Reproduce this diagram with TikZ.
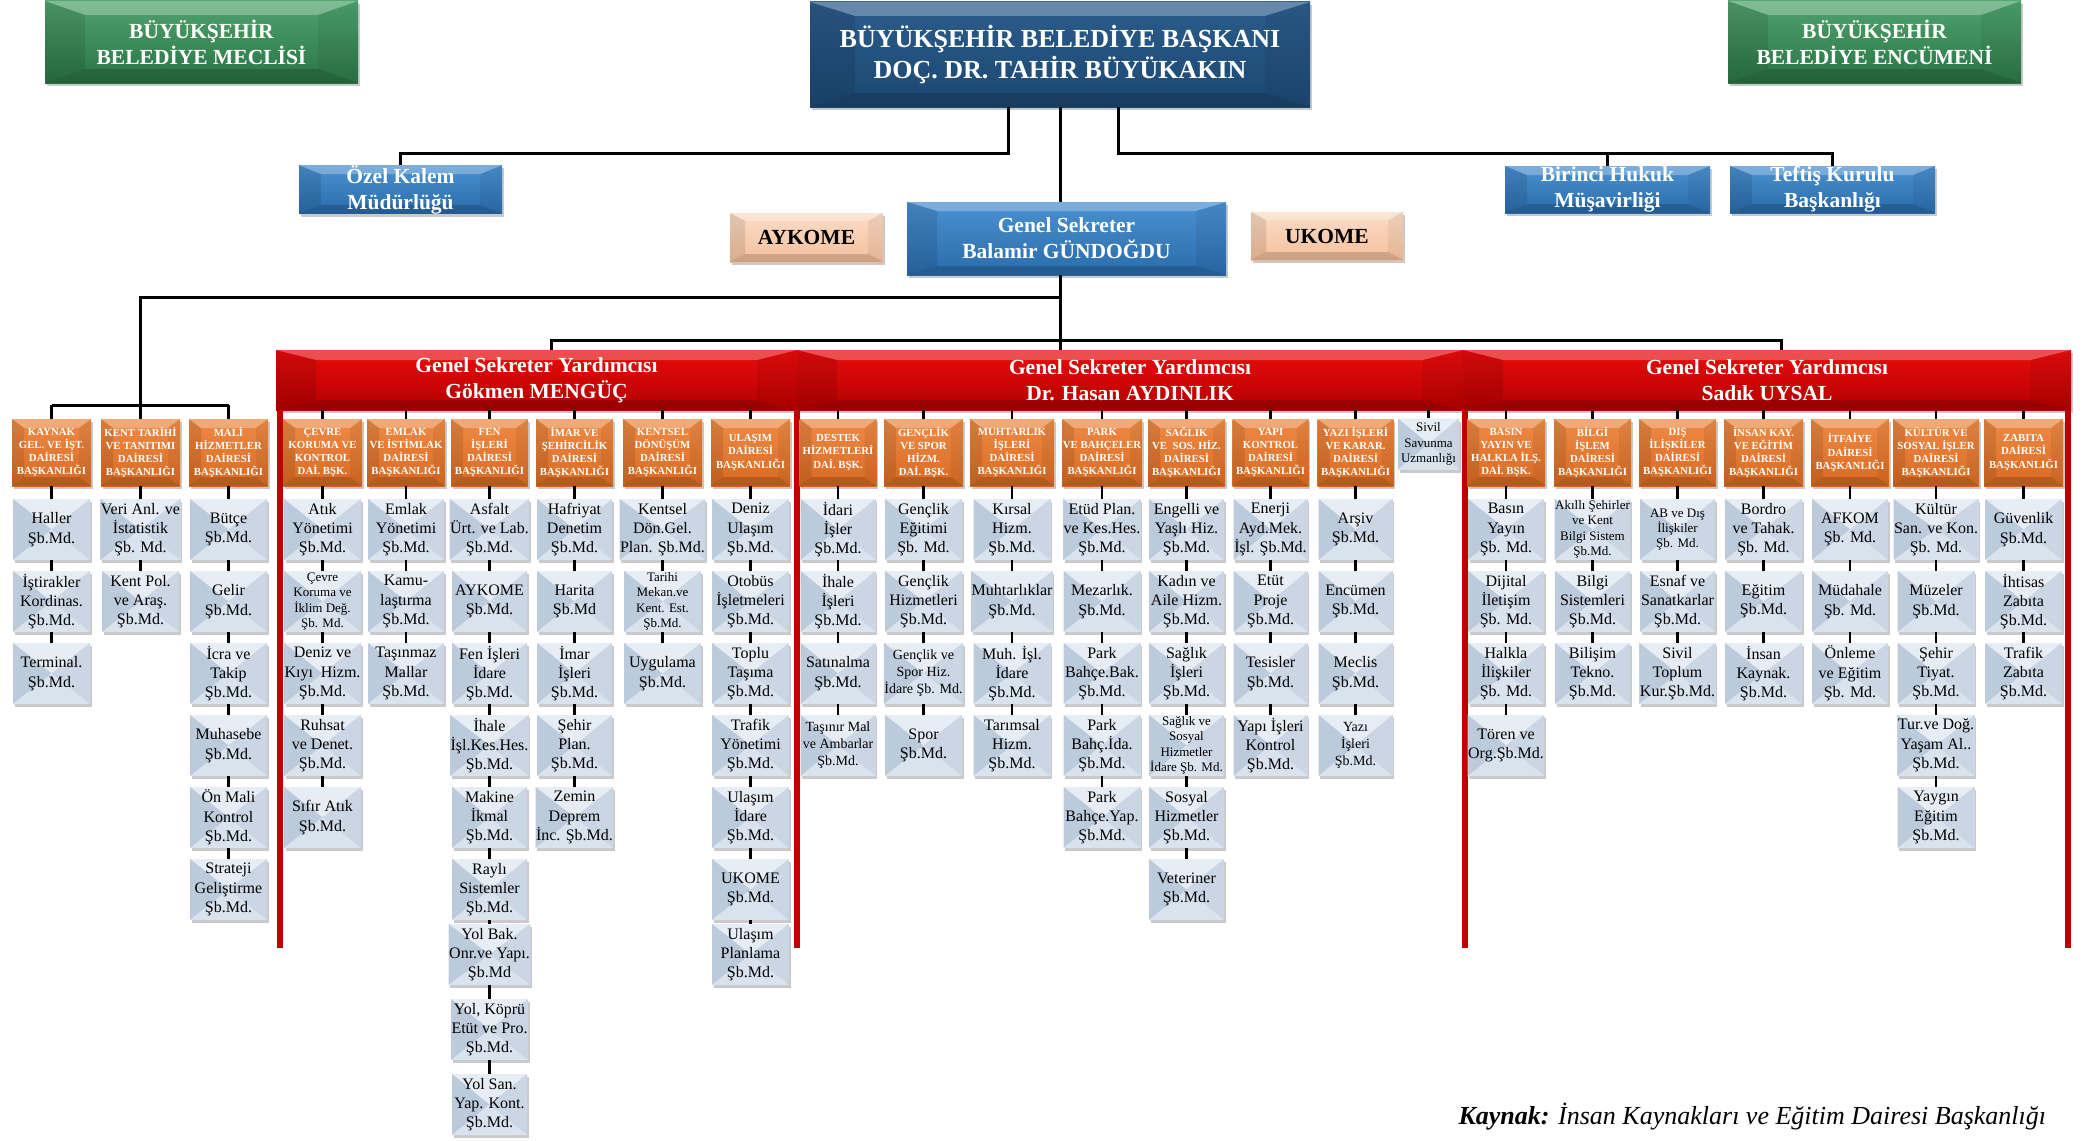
\documentclass[tikz,border=0pt]{standalone}
\usepackage{fontspec}
\setmainfont{Liberation Serif}
\usetikzlibrary{shadows,calc}
\definecolor{grtop}{HTML}{4FA36E}
\definecolor{grbot}{HTML}{2A7444}
\definecolor{pbtop}{HTML}{2C5C8C}
\definecolor{pbbot}{HTML}{1C4872}
\definecolor{bltop}{HTML}{4A90D0}
\definecolor{blbot}{HTML}{2A6CAB}
\definecolor{rdtop}{HTML}{E80C0C}
\definecolor{rdbot}{HTML}{B40000}
\definecolor{ortop}{HTML}{EE8A45}
\definecolor{orbot}{HTML}{D86A22}
\definecolor{pctop}{HTML}{FBDCC6}
\definecolor{pcbot}{HTML}{F4C09C}
\definecolor{subc}{HTML}{D6E1EE}
\definecolor{subtop}{HTML}{E6EDF5}
\definecolor{subleft}{HTML}{BCCBDC}
\definecolor{subright}{HTML}{CAD6E4}
\definecolor{subbot}{HTML}{D9E3EE}
\definecolor{redl}{HTML}{C00000}
\newcommand\subfn{\fontsize{16}{19.3}\selectfont}
\newcommand\subft{\fontsize{14}{17}\selectfont}
\newcommand\subfs{\fontsize{13}{15.3}\selectfont}
\newcommand\bevelfacets[2]{%
  \path (path picture bounding box.north west) coordinate (q1)
        (path picture bounding box.north east) coordinate (q2)
        (path picture bounding box.south east) coordinate (q3)
        (path picture bounding box.south west) coordinate (q4);
  \fill[white,opacity=.28] (q1) -- (q2) -- ([shift={(-#1,#2)}]q2) -- ([shift={(#1,#2)}]q1) -- cycle;
  \fill[black,opacity=.10] (q1) -- ([shift={(#1,#2)}]q1) -- ([shift={(#1,-#2)}]q4) -- (q4) -- cycle;
  \fill[black,opacity=.06] (q2) -- ([shift={(-#1,#2)}]q2) -- ([shift={(-#1,-#2)}]q3) -- (q3) -- cycle;
  \fill[black,opacity=.16] (q4) -- ([shift={(#1,-#2)}]q4) -- ([shift={(-#1,-#2)}]q3) -- (q3) -- cycle;
}
\newcommand\xfacets{%
  \fill[subtop] (path picture bounding box.north west) -- (path picture bounding box.north east) -- (path picture bounding box.center) -- cycle;
  \fill[subleft] (path picture bounding box.north west) -- (path picture bounding box.south west) -- (path picture bounding box.center) -- cycle;
  \fill[subright] (path picture bounding box.north east) -- (path picture bounding box.south east) -- (path picture bounding box.center) -- cycle;
  \fill[subbot] (path picture bounding box.south west) -- (path picture bounding box.south east) -- (path picture bounding box.center) -- cycle;
}
\tikzset{
  conn/.style={line width=3pt, black},
  tick/.style={line width=2.6pt, black},
  redline/.style={line width=5.5pt, redl},
  shd/.style={drop shadow={shadow xshift=1.5pt, shadow yshift=-3pt, opacity=.3, fill=black!70}},
  bev/.style 2 args={path picture={\bevelfacets{#1}{#2}}},
  bigbox/.style={shd, rectangle, inner sep=0pt, text=white, align=center,
    font=\bfseries\fontsize{21.5}{26}\selectfont},
  greenbox/.style={bigbox, top color=grtop, bottom color=grbot, bev={40}{14}},
  presbox/.style={bigbox, top color=pbtop, bottom color=pbbot, bev={45}{14},
    font=\bfseries\fontsize{26}{31}\selectfont},
  bluebox/.style={bigbox, top color=bltop, bottom color=blbot},
  peachbox/.style={bigbox, text=black, top color=pctop, bottom color=pcbot, bev={15}{8}},
  redbox/.style={bigbox, top color=rdtop, bottom color=rdbot, bev={40}{10}},
  hdr/.style={shd, rectangle, inner sep=0pt, minimum height=67, text=white, align=center,
    top color=ortop, bottom color=orbot, bev={12}{9},
    font=\bfseries\fontsize{10.8}{13.2}\selectfont},
  sub/.style={shd, rectangle, inner sep=0.5pt, minimum height=61, align=center, text=black,
    fill=subc, path picture={\xfacets}},
}
\newcommand\dcol[6]{%
  \node[hdr, minimum width=#3] (#1) at (#2,452.5) {#5};
  \draw[tick] (#1.north) -- (#1.north |- #4);
  \foreach \o/\t [count=\i] in {#6} {%
    \pgfmathsetmacro\yy{\i<7 ? 529.5+(\i-1)*72 : 954.5+(\i-7)*75}%
    \node[sub, minimum width={min(#3-2,77)}, font=\csname subf\o\endcsname] (#1-\i) at (#2,\yy) {\t};
    \ifnum\i=1 \draw[tick] (#1.south) -- (#1-1.north);%
    \else \pgfmathtruncatemacro\pv{\i-1}\draw[tick] (#1-\pv.south) -- (#1-\i.north);\fi
  }%
}
\begin{document}
\begin{tikzpicture}[x=1pt,y=-1pt]
\useasboundingbox (0,0) rectangle (2098,1140);
% top level
\node[greenbox, minimum width=313, minimum height=82] (meclis) at (201.5,42) {BÜYÜKŞEHİR\\BELEDİYE MECLİSİ};
\node[presbox, minimum width=500, minimum height=105] (pres) at (1060,54.5) {BÜYÜKŞEHİR BELEDİYE BAŞKANI\\DOÇ. DR. TAHİR BÜYÜKAKIN};
\node[greenbox, minimum width=293, minimum height=82] (encumen) at (1874.5,42) {BÜYÜKŞEHİR\\BELEDİYE ENCÜMENİ};
\node[bluebox, bev={22}{9}, minimum width=203, minimum height=47] (ozel) at (400.5,189.5) {Özel Kalem\\Müdürlüğü};
\node[bluebox, bev={22}{9}, minimum width=205, minimum height=47] (birinci) at (1607.5,189.5) {Birinci Hukuk\\Müşavirliği};
\node[bluebox, bev={22}{9}, minimum width=205, minimum height=47] (teftis) at (1832.5,189.5) {Teftiş Kurulu\\Başkanlığı};
\node[bluebox, bev={30}{9}, minimum width=319, minimum height=73] (gs) at (1066.5,238.5) {Genel Sekreter\\Balamir GÜNDOĞDU};
\node[peachbox, minimum width=153, minimum height=49] (aykome) at (806.5,237.5) {AYKOME};
\node[peachbox, minimum width=152, minimum height=48] (ukome) at (1327,236) {UKOME};
% deputies
\node[redbox, minimum width=521, minimum height=60] (gm) at (536.5,380) {Genel Sekreter Yardımcısı\\Gökmen MENGÜÇ};
\node[redbox, minimum width=666, minimum height=60] (ha) at (1130,380) {Genel Sekreter Yardımcısı\\Dr. Hasan AYDINLIK};
\node[redbox, minimum width=608, minimum height=60] (su) at (1767,380) {Genel Sekreter Yardımcısı\\Sadık UYSAL};
\draw[redline] ([xshift=4pt]gm.south west) -- ++(0,538);
\draw[redline] (ha.south west) -- ++(0,538);
\draw[redline] ([xshift=2pt]su.south west) -- ++(0,538);
\draw[redline] ([xshift=-3pt]su.south east) -- ++(0,538);
% connectors at top
\draw[conn] ([xshift=-52pt]pres.south) -- ++(0,46) -| (ozel.north);
\path ([xshift=58pt]pres.south) ++(0,46) coordinate (rb);
\draw[conn] ([xshift=58pt]pres.south) -- (rb) -| (teftis.north);
\draw[conn] (birinci.north) -- (birinci.north |- rb);
\draw[conn] (pres.south) -- (pres.south |- gs.north);
\draw[conn] (pres.south |- gs.south) -- (pres.south |- ha.north);
\path (pres.south |- 0,297) coordinate (lb);
\path (pres.south |- 0,340) coordinate (mb);
\coordinate (lbar) at (140.5,405);
\path ([xshift=15pt]gm.north) coordinate (gmc);
\path ([xshift=14pt]su.north) coordinate (suc);
\draw[conn] (gmc) -- (gmc |- mb) -- (suc |- mb) -- (suc);
% left cluster
\dcol{kaynak}{51.5}{79}{lbar}{KAYNAK\\GEL. VE İŞT.\\DAİRESİ\\BAŞKANLIĞI}{n/{Haller\\Şb.Md.}, n/{İştirakler\\Kordinas.\\Şb.Md.}, n/{Terminal.\\Şb.Md.}}
\dcol{kent}{140.5}{79}{lbar}{KENT TARİHİ\\VE TANITIMI\\DAİRESİ\\BAŞKANLIĞI}{n/{Veri Anl. ve\\İstatistik\\Şb. Md.}, n/{Kent Pol.\\ve Araş.\\Şb.Md.}}
\dcol{mali}{228.5}{79}{lbar}{MALİ\\HİZMETLER\\DAİRESİ\\BAŞKANLIĞI}{n/{Bütçe\\Şb.Md.}, n/{Gelir\\Şb.Md.}, n/{İcra ve\\Takip\\Şb.Md.}, n/{Muhasebe\\Şb.Md.}, n/{Ön Mali\\Kontrol\\Şb.Md.}, n/{Strateji\\Geliştirme\\Şb.Md.}}
\draw[conn] (lb) -| (lbar);
\draw[conn] (kaynak.north |- lbar) -- (mali.north |- lbar);
% Mengüç
\dcol{cevre}{322.5}{79}{gm.south}{ÇEVRE\\KORUMA VE\\KONTROL\\DAİ. BŞK.}{n/{Atık\\Yönetimi\\Şb.Md.}, s/{Çevre\\Koruma ve\\İklim Değ.\\Şb. Md.}, n/{Deniz ve\\Kıyı~ Hizm.\\Şb.Md.}, n/{Ruhsat\\ve Denet.\\Şb.Md.}, n/{Sıfır Atık\\Şb.Md.}}
\dcol{emlak}{406}{78}{gm.south}{EMLAK\\VE İSTİMLAK\\DAİRESİ\\BAŞKANLIĞI}{n/{Emlak\\Yönetimi\\Şb.Md.}, n/{Kamu-\\laştırma\\Şb.Md.}, n/{Taşınmaz\\Mallar\\Şb.Md.}}
\dcol{fen}{489.5}{77}{gm.south}{FEN\\İŞLERİ\\DAİRESİ\\BAŞKANLIĞI}{n/{Asfalt\\Ürt. ve Lab.\\Şb.Md.}, n/{AYKOME\\Şb.Md.}, n/{Fen İşleri\\İdare\\Şb.Md.}, n/{İhale\\İşl.Kes.Hes.\\Şb.Md.}, n/{Makine\\İkmal\\Şb.Md.}, n/{Raylı\\Sistemler\\Şb.Md.}, n/{Yol Bak.\\Onr.ve Yapı.\\Şb.Md}, n/{Yol, Köprü\\Etüt ve Pro.\\Şb.Md.}, n/{Yol San.\\Yap. Kont.\\Şb.Md.}}
\dcol{imar}{574.5}{77}{gm.south}{İMAR VE\\ŞEHİRCİLİK\\DAİRESİ\\BAŞKANLIĞI}{n/{Hafriyat\\Denetim\\Şb.Md.}, n/{Harita\\Şb.Md}, n/{İmar\\İşleri\\Şb.Md.}, n/{Şehir\\Plan.\\Şb.Md.}, n/{Zemin\\Deprem\\İnc. Şb.Md.}}
\dcol{kentsel}{662.5}{79}{gm.south}{KENTSEL\\DÖNÜŞÜM\\DAİRESİ\\BAŞKANLIĞI}{n/{Kentsel\\Dön.Gel.\\Plan. Şb.Md.}, s/{Tarihi\\Mekan.ve\\Kent. Est.\\Şb.Md.}, n/{Uygulama\\Şb.Md.}}
\dcol{ulasim}{750.5}{79}{gm.south}{ULAŞIM\\DAİRESİ\\BAŞKANLIĞI}{n/{Deniz\\Ulaşım\\Şb.Md.}, n/{Otobüs\\İşletmeleri\\Şb.Md.}, n/{Toplu\\Taşıma\\Şb.Md.}, n/{Trafik\\Yönetimi\\Şb.Md.}, n/{Ulaşım\\İdare\\Şb.Md.}, n/{UKOME\\Şb.Md.}, n/{Ulaşım\\Planlama\\Şb.Md.}}
% Aydınlık
\dcol{destek}{838}{77}{ha.south}{DESTEK\\HİZMETLERİ\\DAİ. BŞK.}{n/{İdari\\İşler\\Şb.Md.}, n/{İhale\\İşleri\\Şb.Md.}, n/{Satınalma\\Şb.Md.}, t/{Taşınır Mal\\ve Ambarlar\\Şb.Md.}}
\dcol{genclik}{923.5}{79}{ha.south}{GENÇLİK\\VE SPOR\\HİZM.\\DAİ. BŞK.}{n/{Gençlik\\Eğitimi\\Şb. Md.}, n/{Gençlik\\Hizmetleri\\Şb.Md.}, t/{Gençlik ve\\Spor Hiz.\\İdare Şb. Md.}, n/{Spor\\Şb.Md.}}
\dcol{muhtar}{1012}{84}{ha.south}{MUHTARLIK\\İŞLERİ\\DAİRESİ\\BAŞKANLIĞI}{n/{Kırsal\\Hizm.\\Şb.Md.}, n/{Muhtarlıklar\\Şb.Md.}, n/{Muh. İşl.\\İdare\\Şb.Md.}, n/{Tarımsal\\Hizm.\\Şb.Md.}}
\dcol{park}{1102}{80}{ha.south}{PARK\\VE BAHÇELER\\DAİRESİ\\BAŞKANLIĞI}{n/{Etüd Plan.\\ve Kes.Hes.\\Şb.Md.}, n/{Mezarlık.\\Şb.Md.}, n/{Park\\Bahçe.Bak.\\Şb.Md.}, n/{Park\\Bahç.İda.\\Şb.Md.}, n/{Park\\Bahçe.Yap.\\Şb.Md.}}
\dcol{saglik}{1186.5}{77}{ha.south}{SAĞLIK\\VE~ SOS. HİZ.\\DAİRESİ\\BAŞKANLIĞI}{n/{Engelli ve\\Yaşlı Hiz.\\Şb.Md.}, n/{Kadın ve\\Aile Hizm.\\Şb.Md.}, n/{Sağlık\\İşleri\\Şb.Md.}, s/{Sağlık ve\\Sosyal\\Hizmetler\\İdare Şb. Md.}, n/{Sosyal\\Hizmetler\\Şb.Md.}, n/{Veteriner\\Şb.Md.}}
\dcol{yapi}{1270.5}{76}{ha.south}{YAPI\\KONTROL\\DAİRESİ\\BAŞKANLIĞI}{n/{Enerji\\Ayd.Mek.\\İşl. Şb.Md.}, n/{Etüt\\Proje\\Şb.Md.}, n/{Tesisler\\Şb.Md.}, n/{Yapı İşleri\\Kontrol\\Şb.Md.}}
\dcol{yazi}{1355.5}{76}{ha.south}{YAZI İŞLERİ\\VE KARAR.\\DAİRESİ\\BAŞKANLIĞI}{n/{Arşiv\\Şb.Md.}, n/{Encümen\\Şb.Md.}, n/{Meclis\\Şb.Md.}, t/{Yazı\\İşleri\\Şb.Md.}}
\node[sub, minimum width=61, minimum height=51, font=\subfs] (sivil) at (1428.5,444) {Sivil\\Savunma\\Uzmanlığı};
\draw[tick] (sivil.north) -- (sivil.north |- ha.south);
% Uysal
\dcol{basin}{1506}{78}{su.south}{BASIN\\YAYIN VE\\HALKLA İLŞ.\\DAİ. BŞK.}{n/{Basın\\Yayın\\Şb. Md.}, n/{Dijital\\İletişim\\Şb. Md.}, n/{Halkla\\İlişkiler\\Şb. Md.}, n/{Tören ve\\Org.Şb.Md.}}
\dcol{bilgi}{1592.5}{77}{su.south}{BİLGİ\\İŞLEM\\DAİRESİ\\BAŞKANLIĞI}{s/{Akıllı Şehirler\\ve Kent\\Bilgi Sistem\\Şb.Md.}, n/{Bilgi\\Sistemleri\\Şb.Md.}, n/{Bilişim\\Tekno.\\Şb.Md.}}
\dcol{dis}{1677.5}{77}{su.south}{DIŞ\\İLİŞKİLER\\DAİRESİ\\BAŞKANLIĞI}{s/{AB ve Dış\\İlişkiler\\Şb. Md.}, n/{Esnaf ve\\Sanatkarlar\\Şb.Md.}, n/{Sivil\\Toplum\\Kur.Şb.Md.}}
\dcol{insan}{1763.5}{79}{su.south}{İNSAN KAY.\\VE EĞİTİM\\DAİRESİ\\BAŞKANLIĞI}{n/{Bordro\\ve Tahak.\\Şb. Md.}, n/{Eğitim\\Şb.Md.}, n/{İnsan\\Kaynak.\\Şb.Md.}}
\dcol{itfaiye}{1850}{78}{su.south}{İTFAİYE\\DAİRESİ\\BAŞKANLIĞI}{n/{AFKOM\\Şb. Md.}, n/{Müdahale\\Şb. Md.}, n/{Önleme\\ve Eğitim\\Şb. Md.}}
\dcol{kultur}{1936}{86}{su.south}{KÜLTÜR VE\\SOSYAL İŞLER\\DAİRESİ\\BAŞKANLIĞI}{n/{Kültür\\San. ve Kon.\\Şb. Md.}, n/{Müzeler\\Şb.Md.}, n/{Şehir\\Tiyat.\\Şb.Md.}, n/{Tur.ve Doğ.\\Yaşam Al..\\Şb.Md.}, n/{Yaygın\\Eğitim\\Şb.Md.}}
\dcol{zabita}{2023.5}{79}{su.south}{ZABITA\\DAİRESİ\\BAŞKANLIĞI}{n/{Güvenlik\\Şb.Md.}, n/{İhtisas\\Zabıta\\Şb.Md.}, n/{Trafik\\Zabıta\\Şb.Md.}}
% source
\node[anchor=west, font=\fontsize{26}{30}\selectfont\itshape] (src) at (1455,1117) {\textbf{Kaynak:} İnsan Kaynakları ve Eğitim Dairesi Başkanlığı};
\end{tikzpicture}
\end{document}
